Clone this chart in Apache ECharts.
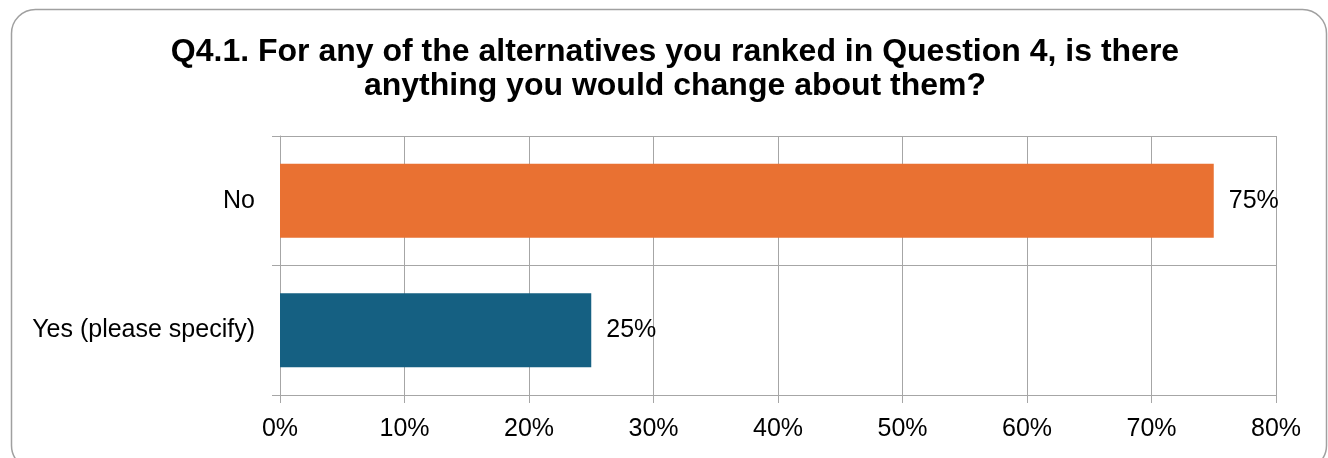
<!DOCTYPE html>
<html>
<head>
<meta charset="utf-8">
<script src="https://cdn.jsdelivr.net/npm/echarts@6/dist/echarts.min.js"></script>
<style>
  html, body { margin: 0; padding: 0; background: #ffffff; }
  #chart { width: 1328px; height: 458px; }
</style>
</head>
<body>
<div id="chart"></div>
<script>
// Survey answers, top to bottom
const categories = ['No', 'Yes (please specify)'];
const shares = [75, 25];
const barColors = ['#E97132', '#156082'];
const axisMin = 0;
const axisMax = 80;
const axisStep = 10;

const FONT = '"Liberation Sans", Arial, sans-serif';
const GRID_COLOR = '#a6a6a6';
const LABEL_SIZE = 25;

const chart = echarts.init(document.getElementById('chart'), null, { renderer: 'canvas' });

chart.setOption({
  animation: false,
  backgroundColor: '#ffffff',
  graphic: [{
    type: 'rect',
    shape: { x: 11.5, y: 9.5, width: 1315, height: 460, r: 24 },
    style: { fill: 'none', stroke: '#a0a0a0', lineWidth: 1.5 },
    silent: true,
    z: 0
  }],
  title: {
    text: 'Q4.1. For any of the alternatives you ranked in Question 4, is there\nanything you would change about them?',
    left: 670,
    top: 30,
    textAlign: 'center',
    textStyle: {
      fontFamily: FONT,
      fontWeight: 'bold',
      fontSize: 32,
      lineHeight: 34,
      color: '#000000'
    }
  },
  grid: {
    left: 280,
    right: 52,
    top: 136,
    bottom: 63,
    containLabel: false
  },
  xAxis: {
    type: 'value',
    min: axisMin,
    max: axisMax,
    interval: axisStep,
    axisLine: { show: true, lineStyle: { color: GRID_COLOR, width: 1 } },
    axisTick: { show: true, length: 8, lineStyle: { color: GRID_COLOR } },
    splitLine: { show: true, lineStyle: { color: GRID_COLOR, width: 1 } },
    axisLabel: {
      formatter: '{value}%',
      margin: 22,
      fontFamily: FONT,
      fontSize: LABEL_SIZE,
      color: '#000000'
    }
  },
  yAxis: {
    type: 'category',
    data: categories,
    inverse: true,
    axisLine: { show: true, lineStyle: { color: GRID_COLOR, width: 1 } },
    axisTick: { show: true, length: 8, lineStyle: { color: GRID_COLOR } },
    splitLine: { show: true, lineStyle: { color: GRID_COLOR, width: 1 } },
    axisLabel: {
      margin: 25,
      fontFamily: FONT,
      fontSize: LABEL_SIZE,
      color: '#000000'
    }
  },
  series: [{
    type: 'bar',
    data: shares.map((v, i) => ({ value: v, itemStyle: { color: barColors[i] } })),
    barWidth: 74,
    label: {
      show: true,
      position: 'right',
      distance: 15,
      formatter: '{c}%',
      fontFamily: FONT,
      fontSize: LABEL_SIZE,
      color: '#000000'
    }
  }]
});
</script>
</body>
</html>
